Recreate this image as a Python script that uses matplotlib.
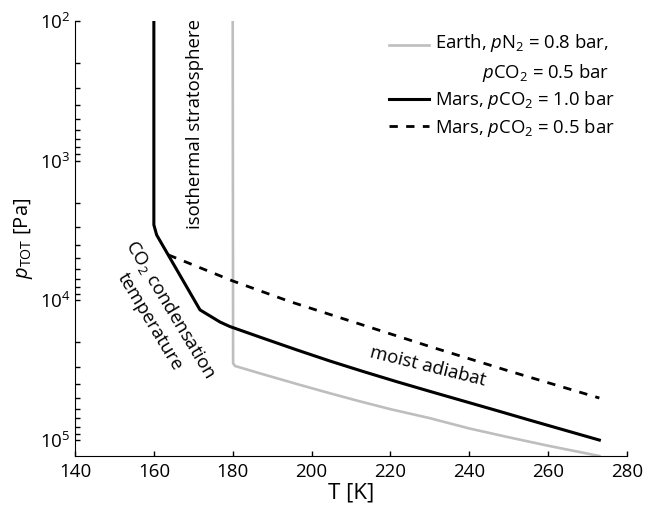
import matplotlib
matplotlib.use("Agg")
import numpy as np
import matplotlib.pyplot as plt
from matplotlib.ticker import LogLocator

plt.rcParams['font.family'] = ['Open Sans', 'DejaVu Sans']
plt.rcParams['mathtext.fontset'] = 'custom'
plt.rcParams['mathtext.rm'] = 'Open Sans'
plt.rcParams['mathtext.it'] = 'Open Sans:italic'

# Earth, pN2 = 0.8 bar, pCO2 = 0.5 bar
earth_T = [180.0, 180.1, 180.6, 188.0, 196.0, 204.0, 212.0, 220.0, 230.0, 240.0, 250.0, 260.0, 273.0]
earth_p = [1e2, 2.82e4, 2.95e4, 3.40e4, 3.95e4, 4.57e4, 5.26e4, 6.01e4, 6.97e4, 8.26e4,
           9.55e4, 1.098e5, 1.3e5]

# Mars, pCO2 = 1.0 bar
mars1_T = [160.0, 160.0, 160.7, 171.7, 176.8, 179.3, 187.8, 196.2, 204.7, 213.1, 221.6,
           230.0, 238.5, 246.9, 255.4, 263.8, 273.0]
mars1_p = [1e2, 2.88e3, 3.4e3, 1.17e4, 1.43e4, 1.54e4, 1.87e4, 2.26e4, 2.72e4, 3.23e4, 3.82e4,
           4.48e4, 5.25e4, 6.14e4, 7.21e4, 8.43e4, 1.0e5]

# Mars, pCO2 = 0.5 bar
mars05_T = [163.7, 180.0, 194.5, 207.2, 230.0, 250.0, 273.0]
mars05_p = [4.73e3, 7.26e3, 1.02e4, 1.33e4, 2.14e4, 3.2e4, 5.0e4]

fig = plt.figure(figsize=(6.45, 5.15), dpi=100)
ax = fig.add_axes([0.1163, 0.1146, 0.8557, 0.8447])

ax.plot(earth_T, earth_p, color='#bebebe', lw=1.9,
        label='Earth, $p$N$_2$ = 0.8 bar,\n$p$CO$_2$ = 0.5 bar')
ax.plot(mars1_T, mars1_p, color='black', lw=2.2, label='Mars, $p$CO$_2$ = 1.0 bar')
ax.plot(mars05_T, mars05_p, color='black', lw=2.0, ls=(0, (3, 3)),
        label='Mars, $p$CO$_2$ = 0.5 bar')

ax.set_yscale('log')
ax.set_xlim(140, 280)
ax.set_ylim(1.3e5, 1e2)
ax.set_xticks([140, 160, 180, 200, 220, 240, 260, 280])
ax.yaxis.set_major_locator(LogLocator(base=10, numticks=10))
ax.yaxis.set_minor_locator(LogLocator(base=10, subs=np.arange(2, 10), numticks=20))

for s in ['top', 'right']:
    ax.spines[s].set_visible(False)
ax.tick_params(which='both', direction='in', length=3.5, width=1, color='black',
               labelsize=13.5)
ax.tick_params(axis='x', pad=5)
ax.tick_params(axis='y', pad=3)

ax.set_xlabel('T [K]', fontsize=16, labelpad=1)
ax.set_ylabel('$p_{\\mathrm{TOT}}$ [Pa]', fontsize=14.5, labelpad=4)

ax.text(170.5, 545, 'isothermal stratosphere', rotation=90, fontsize=13.4,
        ha='center', va='center')
ax.text(161.8, 1.27e4, 'CO$_2$ condensation\ntemperature', rotation=-59,
        fontsize=13.4, ha='center', va='center', rotation_mode='anchor',
        multialignment='center', linespacing=1.4)
ax.text(229.5, 3.0e4, 'moist adiabat', rotation=-14, fontsize=13.4,
        ha='center', va='center', rotation_mode='anchor')

leg = ax.legend(loc='upper right', bbox_to_anchor=(0.978, 0.975), frameon=False,
                fontsize=13.3, handlelength=2.2, handletextpad=0.32, labelspacing=0.3,
                borderaxespad=0, borderpad=0)
leg.get_texts()[0].set_multialignment('right')
leg.get_texts()[0].set_linespacing(1.5)
# put the grey sample line next to the first text line
h0 = leg.legend_handles[0]
h0.set_ydata(np.asarray(h0.get_ydata()) + 9.5)

fig.savefig('out.png', dpi=100)
